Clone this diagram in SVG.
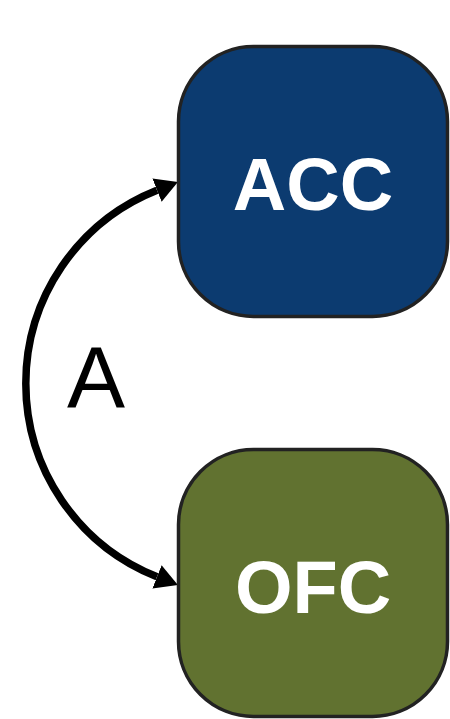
<svg xmlns="http://www.w3.org/2000/svg" width="450" height="719" viewBox="0 0 450 719">
  <style>
    .node { stroke: #222222; stroke-width: 3.5; }
    .node-label { font-family: "Liberation Sans", Arial, sans-serif; font-weight: bold; font-size: 74px; fill: #ffffff; text-anchor: middle; }
    .edge { fill: none; stroke: #000000; stroke-width: 7.5; }
    .edge-label { font-family: "Liberation Sans", Arial, sans-serif; font-size: 87px; fill: #000000; text-anchor: middle; }
  </style>
  <defs>
    <marker id="arrowhead" markerUnits="userSpaceOnUse" viewBox="0 -14 24 28" markerWidth="24" markerHeight="28" refX="0" refY="0" orient="auto-start-reverse">
      <path d="M0,-12.5 L22.5,0 L0,12.5 Z" fill="#000000"/>
    </marker>
  </defs>
  <rect width="450" height="719" fill="#ffffff"/>

  <g id="connectors">
    <path class="edge" d="M157,190.2 A208,208 0 0 0 157,576.8" marker-start="url(#arrowhead)" marker-end="url(#arrowhead)"/>
    <text class="edge-label" x="96" y="408">A</text>
  </g>

  <g id="node-acc">
    <rect class="node" x="178.5" y="46.5" width="269" height="270" rx="75" ry="75" fill="#0c3b70"/>
    <text class="node-label" x="313" y="210">ACC</text>
  </g>

  <g id="node-ofc">
    <rect class="node" x="178.5" y="449.5" width="269" height="267" rx="75" ry="75" fill="#617230"/>
    <text class="node-label" x="313" y="613">OFC</text>
  </g>
</svg>
